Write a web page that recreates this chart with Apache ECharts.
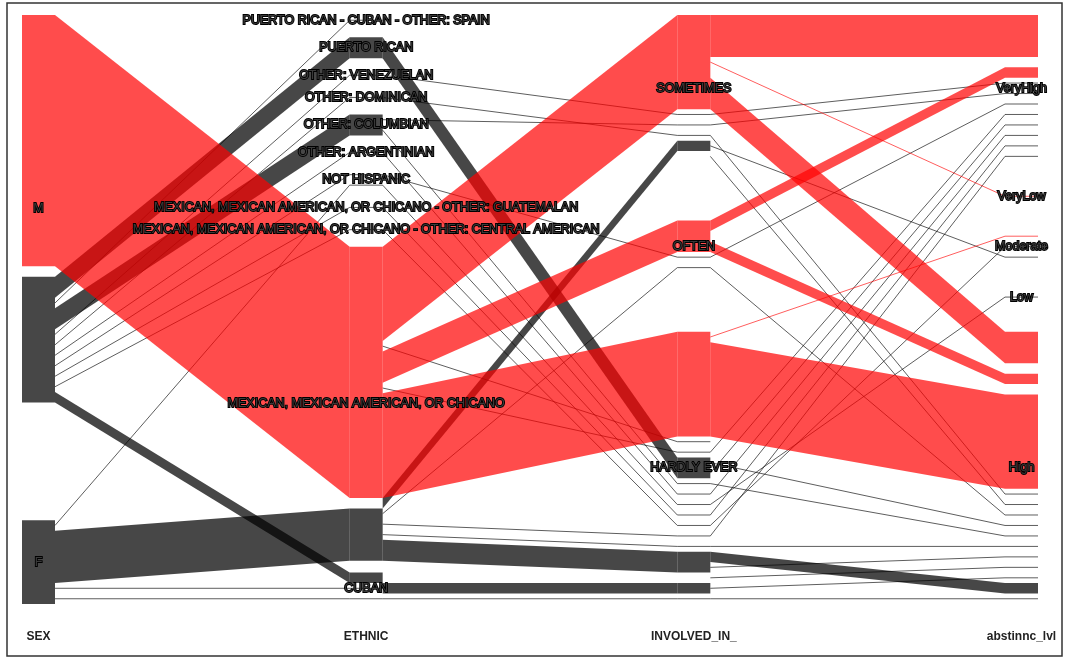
<!DOCTYPE html>
<html>
<head>
<meta charset="utf-8">
<script src="https://cdn.jsdelivr.net/npm/echarts@6/dist/echarts.min.js"></script>
<style>
  html, body { margin: 0; padding: 0; background: #fff; }
  #chart { width: 1065px; height: 659px; }
</style>
</head>
<body>
<div id="chart"></div>
<script>
// axes, left to right
const dims = ['SEX', 'ETHNIC', 'INVOLVED_IN_', 'abstinnc_lvl'];

// categories on each axis, top to bottom
const sexCats = ['M', 'F'];
const ethCats = ['PCS', 'PR', 'VEN', 'DOM', 'COL', 'ARG', 'NH', 'GUA', 'CAM', 'MEX', 'CUB'];
const ethLabels = [
  'PUERTO RICAN - CUBAN - OTHER: SPAIN',
  'PUERTO RICAN',
  'OTHER: VENEZUELAN',
  'OTHER: DOMINICAN',
  'OTHER: COLUMBIAN',
  'OTHER: ARGENTINIAN',
  'NOT HISPANIC',
  'MEXICAN, MEXICAN AMERICAN, OR CHICANO - OTHER: GUATEMALAN',
  'MEXICAN, MEXICAN AMERICAN, OR CHICANO - OTHER: CENTRAL AMERICAN',
  'MEXICAN, MEXICAN AMERICAN, OR CHICANO',
  'CUBAN'
];
const invCats = ['SOM', 'OFT', 'HAR'];
const invLabels = ['SOMETIMES', 'OFTEN', 'HARDLY EVER'];
const absCats = ['VH', 'VL', 'MOD', 'LOW', 'HIG'];
const absLabels = ['VeryHigh', 'VeryLow', 'Moderate', 'Low', 'High'];

// flows between neighbouring axes: [from, to, count, kind, rank at the target]
// listed in their order on the left axis; kind: hi = red group, base = grey group,
// few = thin line, fewHi = thin red line, na = not drawn
const sexEth = [
  ['M', 'MEX', 24, 'hi', 0],
  ['M', 'MEX', 1, 'na', 1],
  ['M', 'PR', 2, 'base', 0],
  ['M', 'PCS', 1, 'few', 0],
  ['M', 'COL', 2, 'base', 0],
  ['M', 'VEN', 1, 'few', 0],
  ['M', 'DOM', 1, 'few', 0],
  ['M', 'ARG', 1, 'few', 0],
  ['M', 'NH', 1, 'few', 0],
  ['M', 'GUA', 1, 'few', 0],
  ['M', 'CAM', 1, 'few', 0],
  ['M', 'CUB', 1, 'base', 0],
  ['F', 'NH', 1, 'few', 1],
  ['F', 'MEX', 5, 'base', 2],
  ['F', 'CUB', 1, 'few', 1],
  ['F', 'CUB', 1, 'few', 2]
];
const ethInv = [
  ['PCS', 'SOM', 1, 'na', 5],
  ['PR', 'HAR', 2, 'base', 3],
  ['VEN', 'SOM', 1, 'few', 1],
  ['DOM', 'SOM', 1, 'few', 3],
  ['COL', 'SOM', 1, 'few', 2],
  ['COL', 'HAR', 1, 'few', 4],
  ['ARG', 'HAR', 1, 'few', 5],
  ['NH', 'OFT', 1, 'few', 1],
  ['NH', 'HAR', 1, 'few', 6],
  ['GUA', 'HAR', 1, 'few', 7],
  ['CAM', 'HAR', 1, 'few', 8],
  ['MEX', 'SOM', 9, 'hi', 0],
  ['MEX', 'HAR', 1, 'few', 1],
  ['MEX', 'OFT', 3, 'hi', 0],
  ['MEX', 'HAR', 1, 'few', 2],
  ['MEX', 'HAR', 10, 'hi', 0],
  ['MEX', 'SOM', 1, 'base', 4],
  ['MEX', 'OFT', 1, 'few', 2],
  ['MEX', 'HAR', 1, 'few', 9],
  ['MEX', 'HAR', 1, 'few', 10],
  ['MEX', 'HAR', 2, 'base', 11],
  ['CUB', 'HAR', 1, 'na', 12],
  ['CUB', 'HAR', 1, 'base', 13],
  ['CUB', 'HAR', 1, 'few', 14]
];
const invAbs = [
  ['SOM', 'VH', 4, 'hi', 0],
  ['SOM', 'VL', 1, 'fewHi', 0],
  ['SOM', 'VH', 1, 'na', 1],
  ['SOM', 'HIG', 3, 'hi', 0],
  ['SOM', 'VH', 1, 'few', 3],
  ['SOM', 'VH', 1, 'few', 4],
  ['SOM', 'HIG', 1, 'few', 5],
  ['SOM', 'MOD', 1, 'few', 2],
  ['SOM', 'HIG', 1, 'few', 6],
  ['OFT', 'VH', 1, 'hi', 2],
  ['OFT', 'HIG', 1, 'na', 1],
  ['OFT', 'HIG', 1, 'hi', 2],
  ['OFT', 'VH', 1, 'few', 5],
  ['OFT', 'HIG', 1, 'few', 7],
  ['HAR', 'MOD', 1, 'fewHi', 0],
  ['HAR', 'HIG', 9, 'hi', 4],
  ['HAR', 'HIG', 1, 'na', 3],
  ['HAR', 'VH', 1, 'few', 6],
  ['HAR', 'HIG', 1, 'few', 8],
  ['HAR', 'VH', 1, 'few', 7],
  ['HAR', 'HIG', 1, 'few', 9],
  ['HAR', 'VH', 1, 'few', 8],
  ['HAR', 'LOW', 1, 'few', 0],
  ['HAR', 'VH', 1, 'few', 9],
  ['HAR', 'MOD', 1, 'few', 1],
  ['HAR', 'VH', 1, 'few', 10],
  ['HAR', 'HIG', 1, 'few', 10],
  ['HAR', 'HIG', 1, 'base', 14],
  ['HAR', 'HIG', 1, 'few', 11],
  ['HAR', 'HIG', 1, 'few', 12],
  ['HAR', 'HIG', 1, 'few', 13],
  ['HAR', 'HIG', 1, 'few', 15]
];

const cats = [sexCats, ethCats, invCats, absCats];
const catLabels = [sexCats, ethLabels, invLabels, absLabels];
const segments = [sexEth, ethInv, invAbs];
const gapShare = 0.2;   // part of the height kept for gaps between categories
const halfBar = 16.5;   // half width of a category column, px

const looks = {
  base:  { fill: 'rgba(0,0,0,0.72)', order: 0 },
  few:   { stroke: 'rgba(0,0,0,0.8)', order: 1 },
  hi:    { fill: 'rgba(255,0,0,0.7)', order: 2 },
  fewHi: { stroke: 'rgba(255,0,0,0.8)', order: 3 }
};

// size of every category on every axis
const sizes = cats.map((list, a) => {
  const seg = a < segments.length ? segments[a] : segments[a - 1];
  const k = a < segments.length ? 0 : 1;
  return list.map(c => seg.filter(l => l[k] === c).reduce((s, l) => s + l[2], 0));
});
const total = sizes[0].reduce((s, v) => s + v, 0);
const gapTotal = total * gapShare / (1 - gapShare);
const yMax = total + gapTotal;
const starts = sizes.map(sz => {
  const gap = gapTotal / (sz.length - 1);
  let y = 0;
  return sz.map(v => { const s = y; y += v + gap; return s; });
});

// stack the flows on both sides of each segment
const shapes = [];
let blocks = [];
segments.forEach((seg, s) => {
  const cur = {};
  cats[s].forEach((c, i) => { cur[c] = starts[s][i]; });
  const src = seg.map(l => { const y = cur[l[0]]; cur[l[0]] += l[2]; return y; });
  const tgt = [];
  cats[s + 1].forEach((c, i) => {
    let y = starts[s + 1][i];
    seg.map((l, j) => j).filter(j => seg[j][1] === c)
      .sort((p, q) => seg[p][4] - seg[q][4])
      .forEach(j => { tgt[j] = y; y += seg[j][2]; });
  });
  seg.forEach((l, j) => {
    const n = l[2], kind = l[3];
    if (s === 0 && kind !== 'na') {
      blocks.push({ type: 'block', a: 0, y0: src[j], y1: src[j] + n, kind: kind === 'few' ? 'base' : kind });
    }
    if (kind === 'na') return;
    shapes.push({ type: 'ribbon', a: s, y0: src[j], y1: src[j] + n, y2: tgt[j], y3: tgt[j] + n, kind });
    blocks.push({ type: 'block', a: s + 1, y0: tgt[j], y1: tgt[j] + n, kind });
  });
});

// join touching filled pieces of a column so no seams show
blocks.sort((p, q) => p.a - q.a || p.y0 - q.y0);
const merged = [];
blocks.forEach(b => {
  const last = merged[merged.length - 1];
  if (last && looks[b.kind].fill && last.kind === b.kind && last.a === b.a && Math.abs(last.y1 - b.y0) < 1e-6) {
    last.y1 = b.y1;
  } else {
    merged.push(Object.assign({}, b));
  }
});
shapes.push(...merged);
shapes.sort((p, q) => looks[p.kind].order - looks[q.kind].order);

const labelItems = [];
cats.forEach((list, a) => list.forEach((c, i) => {
  labelItems.push({ a, y: starts[a][i] + sizes[a][i] / 2, text: catLabels[a][i] });
}));

function drawShape(sh, api) {
  const look = looks[sh.kind];
  if (sh.type === 'ribbon') {
    const a0 = api.coord([sh.a, sh.y0]), a1 = api.coord([sh.a, sh.y1]);
    const b0 = api.coord([sh.a + 1, sh.y2]), b1 = api.coord([sh.a + 1, sh.y3]);
    const xs = a0[0] + halfBar, xt = b0[0] - halfBar;
    if (look.fill) {
      return { type: 'polygon', shape: { points: [[xs, a0[1]], [xt, b0[1]], [xt, b1[1]], [xs, a1[1]]] },
        style: { fill: look.fill } };
    }
    return { type: 'polyline', shape: { points: [[xs, (a0[1] + a1[1]) / 2], [xt, (b0[1] + b1[1]) / 2]] },
      style: { stroke: look.stroke, lineWidth: 0.8, fill: null } };
  }
  const p0 = api.coord([sh.a, sh.y0]), p1 = api.coord([sh.a, sh.y1]);
  if (look.fill) {
    return { type: 'rect', shape: { x: p0[0] - halfBar, y: p0[1], width: 2 * halfBar, height: p1[1] - p0[1] },
      style: { fill: look.fill } };
  }
  const ym = (p0[1] + p1[1]) / 2;
  return { type: 'line', shape: { x1: p0[0] - halfBar, y1: ym, x2: p0[0] + halfBar, y2: ym },
    style: { stroke: look.stroke, lineWidth: 0.8 } };
}

const chart = echarts.init(document.getElementById('chart'));
chart.setOption({
  animation: false,
  grid: { left: 38.5, right: 43.5, top: 15, bottom: 55 },
  xAxis: {
    type: 'category',
    data: dims,
    boundaryGap: false,
    axisLine: { show: false },
    axisTick: { show: false },
    splitLine: { show: false },
    axisLabel: { color: '#222', fontSize: 12, fontWeight: 'bold', fontFamily: 'Liberation Sans', margin: 27 }
  },
  yAxis: { type: 'value', min: 0, max: yMax, inverse: true, show: false },
  graphic: [{
    type: 'rect', x: 7, y: 3, z: 100,
    shape: { x: 0, y: 0, width: 1055, height: 653 },
    style: { fill: 'none', stroke: '#333', lineWidth: 1.5 }
  }],
  series: [
    {
      type: 'custom',
      silent: true,
      clip: false,
      data: shapes.map(sh => [sh.a, sh.y0]),
      renderItem: (params, api) => drawShape(shapes[params.dataIndex], api)
    },
    {
      type: 'custom',
      silent: true,
      clip: false,
      z: 5,
      data: labelItems.map(l => [l.a, l.y]),
      renderItem: (params, api) => {
        const l = labelItems[params.dataIndex];
        const p = api.coord([l.a, l.y]);
        return {
          type: 'text',
          x: p[0], y: p[1],
          style: {
            text: l.text, fill: '#3a3a3a', stroke: '#000', lineWidth: 1.8,
            font: '12.5px "Liberation Sans"', align: 'center', verticalAlign: 'middle'
          }
        };
      }
    }
  ]
});
</script>
</body>
</html>
